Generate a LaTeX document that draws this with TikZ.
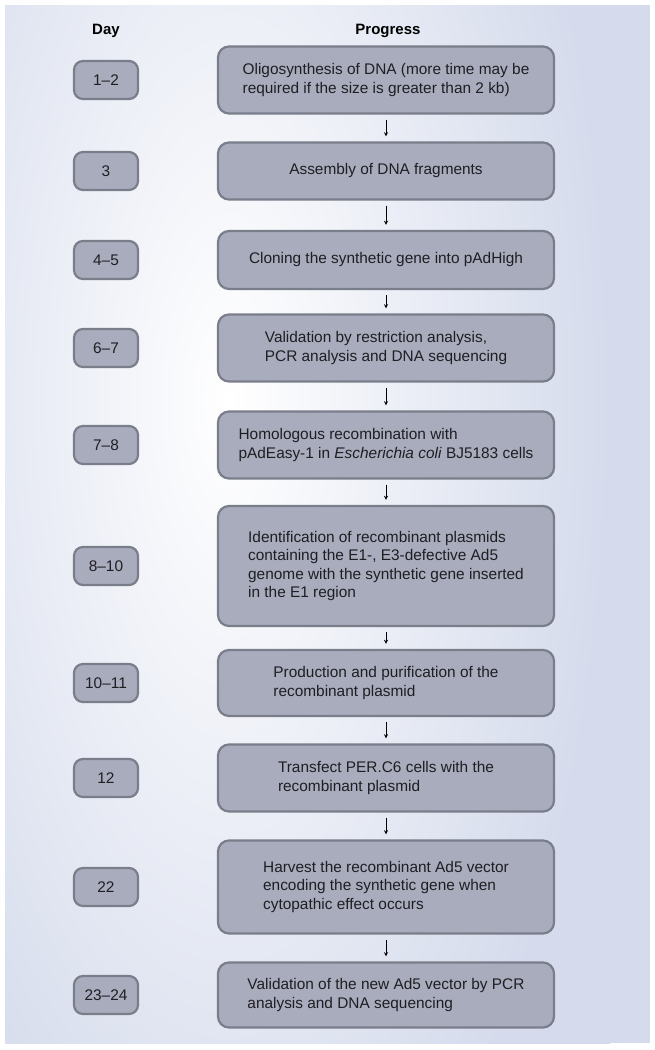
\documentclass[tikz,border=0pt]{standalone}
\usepackage{fontspec}
\setmainfont{Liberation Sans}
\usetikzlibrary{shapes,arrows}
\definecolor{panel}{RGB}{213,219,236}
\definecolor{boxfill}{RGB}{169,172,189}
\definecolor{boxedge}{RGB}{122,125,138}
\definecolor{inktext}{RGB}{30,30,35}
\tikzstyle{block} = [rectangle, draw=boxedge, fill=boxfill, line width=2.2pt,
    text=inktext, align=left, rounded corners=11pt, minimum width=336pt,
    font=\fontsize{15.4}{18.3}\selectfont]
\tikzstyle{daybox} = [rectangle, draw=boxedge, fill=boxfill, line width=2.2pt,
    text=inktext, rounded corners=9pt, minimum width=64pt, minimum height=38pt,
    font=\fontsize{15.4}{18.3}\selectfont]
\tikzstyle{head} = [font=\bfseries\fontsize{15}{18}\selectfont]
\tikzstyle{line} = [->, >=stealth, line width=0.9pt, shorten <=5pt, shorten >=5pt]

\begin{document}
\begin{tikzpicture}[x=1pt, y=-1pt]
	\useasboundingbox (0,0) rectangle (655,1050);
	% background panel with glow
	\fill[panel] (5,5) rectangle (650,1043);
	\begin{scope}
		\clip (5,5) rectangle (650,1043);
		\shade[inner color=white, outer color=panel] (-150,-500) rectangle (610,1300);
	\end{scope}

	\node [head] (dayhead) at (106,31) {Day};
	\node [head, right of=dayhead, node distance=282pt] (proghead) {Progress};

	\node [block, minimum height=67pt] (oligo) at (386,80) {Oligosynthesis of DNA (more time may be\\required if the size is greater than 2 kb)};
	\node [block, minimum height=57pt, below of=oligo, node distance=91pt] (assembly) {Assembly of DNA fragments};
	\node [block, minimum height=58pt, below of=assembly, node distance=89pt] (cloning) {Cloning the synthetic gene into pAdHigh};
	\node [block, minimum height=67pt, below of=cloning, node distance=88pt] (valid) {Validation by restriction analysis,\\PCR analysis and DNA sequencing};
	\node [block, minimum height=67pt, below of=valid, node distance=97pt] (homol) {Homologous recombination with\\pAdEasy-1 in \textit{Escherichia coli} BJ5183 cells};
	\node [block, minimum height=120pt, below of=homol, node distance=121pt] (ident) {Identification of recombinant plasmids\\containing the E1-, E3-defective Ad5\\genome with the synthetic gene inserted\\in the E1 region};
	\node [block, minimum height=66pt, below of=ident, node distance=117pt] (prod) {Production and purification of the\\recombinant plasmid};
	\node [block, minimum height=67pt, below of=prod, node distance=95pt] (transf) {Transfect PER.C6 cells with the\\recombinant plasmid};
	\node [block, minimum height=93pt, below of=transf, node distance=109pt] (harvest) {Harvest the recombinant Ad5 vector\\encoding the synthetic gene when\\cytopathic effect occurs};
	\node [block, minimum height=65pt, below of=harvest, node distance=108pt] (validad) {Validation of the new Ad5 vector by PCR\\analysis and DNA sequencing};

	\node [daybox, left of=oligo, node distance=280pt] (d1) {1--2};
	\node [daybox, left of=assembly, node distance=280pt] (d2) {3};
	\node [daybox, left of=cloning, node distance=280pt] (d3) {4--5};
	\node [daybox, left of=valid, node distance=280pt] (d4) {6--7};
	\node [daybox, left of=homol, node distance=280pt] (d5) {7--8};
	\node [daybox, left of=ident, node distance=280pt] (d6) {8--10};
	\node [daybox, left of=prod, node distance=280pt] (d7) {10--11};
	\node [daybox, left of=transf, node distance=280pt] (d8) {12};
	\node [daybox, left of=harvest, node distance=280pt] (d9) {22};
	\node [daybox, left of=validad, node distance=280pt] (d10) {23--24};

	\draw[line] (oligo) -- (assembly);
	\draw[line] (assembly) -- (cloning);
	\draw[line] (cloning) -- (valid);
	\draw[line] (valid) -- (homol);
	\draw[line] (homol) -- (ident);
	\draw[line] (ident) -- (prod);
	\draw[line] (prod) -- (transf);
	\draw[line] (transf) -- (harvest);
	\draw[line] (harvest) -- (validad);
\end{tikzpicture}
\end{document}
